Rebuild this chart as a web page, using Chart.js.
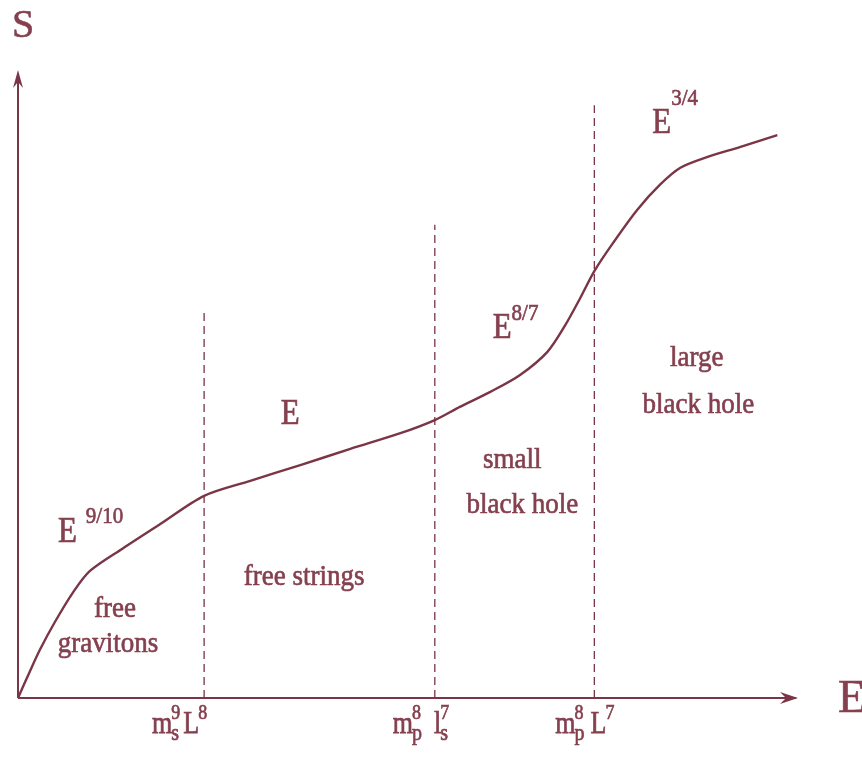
<!DOCTYPE html>
<html>
<head>
<meta charset="utf-8">
<title>Entropy vs energy</title>
<script src="https://cdn.jsdelivr.net/npm/chart.js@4"></script>
<style>
  html, body { margin: 0; padding: 0; background: #ffffff; }
  #wrap { width: 862px; height: 757px; }
</style>
</head>
<body>
<div id="wrap"><canvas id="phaseChart" width="862" height="757"></canvas></div>
<script>
// S(E) sketch: energy along x, entropy along y (arbitrary units, 0..100)
const energy  = [0, 1.5, 2.8, 4.7, 7.0, 9.2, 13.4, 18.2, 23.8, 29.7, 36.1, 42.5, 48.9,
                 53.3, 56.5, 60.4, 64.2, 67.7, 70.0, 71.9, 73.7, 76.1, 79.2, 82.1, 84.7, 88.1, 92.3, 97.1];
const entropy = [0, 4.2, 7.7, 12.1, 16.8, 20.3, 23.9, 27.8, 32.3, 34.7, 37.2, 39.8, 42.3,
                 44.4, 46.5, 48.9, 51.6, 55.3, 59.6, 63.9, 68.2, 72.7, 78.0, 82.0, 84.7, 86.4, 88.0, 89.9];

// phase boundaries (dashed verticals) and how high each one is drawn
const transitionE   = [23.8, 53.3, 73.7];
const transitionTop = [62.0, 75.6, 94.7];

// tick labels under each boundary: [base, superscript, subscript]
const tickLabels = [
  [['m', '9', 's'], ['L', '8', '']],
  [['m', '8', 'p'], ['l', '7', 's']],
  [['m', '8', 'p'], ['L', '7', '']]
];

// scaling-law labels: exponent of E in each regime
const powerLaws = ['9/10', '', '8/7', '3/4'];

// region names
const regionNames = [
  ['free', 'gravitons'],
  ['free strings'],
  ['small', 'black hole'],
  ['large', 'black hole']
];

const INK = '#7a3546';
const TEXT = '#85404f';
const SERIF = '"Liberation Serif", "DejaVu Serif", serif';

// where the text goes, in data units (x = E, y = S); baseline-anchored
const regionSpots = [
  [[12.4, 12.9], [11.5, 7.3]],
  [[36.6, 18.1]],
  [[63.2, 36.7], [64.5, 29.6]],
  [[86.8, 53.0], [87.0, 45.5]]
];
const powerSpots = [
  { at: [5.1, 24.9], sup: [9, 19] },
  { at: [33.6, 43.8], sup: [0, 0] },
  { at: [60.7, 57.5], sup: [0, 18] },
  { at: [81.1, 90.3], sup: [0, 28] }
];

function stretchedText(ctx, text, x, y, size, align, stretch) {
  ctx.save();
  ctx.font = size + 'px ' + SERIF;
  ctx.textAlign = align || 'left';
  ctx.textBaseline = 'alphabetic';
  ctx.translate(x, y);
  ctx.scale(1, stretch || 1.15);
  ctx.lineWidth = 0.6;
  ctx.strokeStyle = ctx.fillStyle;
  ctx.fillText(text, 0, 0);
  ctx.strokeText(text, 0, 0);
  ctx.restore();
  ctx.font = size + 'px ' + SERIF;
  return ctx.measureText(text).width;
}

const sketchPlugin = {
  id: 'sketch',
  afterDatasetsDraw(chart) {
    const { ctx, chartArea: a, scales } = chart;
    const xs = scales.x, ys = scales.y;
    const x0 = xs.getPixelForValue(0), y0 = ys.getPixelForValue(0);

    // axes with arrowheads
    ctx.save();
    ctx.strokeStyle = INK;
    ctx.fillStyle = INK;
    ctx.lineWidth = 2;
    ctx.beginPath();
    ctx.moveTo(x0, y0);
    ctx.lineTo(a.right - 4, y0);
    ctx.moveTo(x0, y0);
    ctx.lineTo(x0, a.top + 4);
    ctx.stroke();

    ctx.beginPath();
    ctx.moveTo(a.right - 2, y0);
    ctx.lineTo(a.right - 20, y0 - 6);
    ctx.lineTo(a.right - 14, y0);
    ctx.lineTo(a.right - 20, y0 + 6);
    ctx.closePath();
    ctx.fill();

    ctx.beginPath();
    ctx.moveTo(x0, a.top - 2);
    ctx.lineTo(x0 - 5, a.top + 16);
    ctx.lineTo(x0, a.top + 10);
    ctx.lineTo(x0 + 5, a.top + 16);
    ctx.closePath();
    ctx.fill();

    // axis names
    ctx.fillStyle = TEXT;
    stretchedText(ctx, 'S', x0 - 6, a.top - 35, 40, 'left', 1.0);
    stretchedText(ctx, 'E', a.right + 38, y0 + 14, 46, 'left', 1.0);

    // tick labels under the boundaries
    tickLabels.forEach((terms, i) => {
      let px = xs.getPixelForValue(transitionE[i]) - [52, 42, 39][i];
      const base = y0 + 35;
      terms.forEach((term, k) => {
        const w = stretchedText(ctx, term[0], px, base, 26, 'left', 1.25);
        px += w - 1;
        let ew = 0;
        if (term[1]) ew = Math.max(ew, stretchedText(ctx, term[1], px, base - 14, 18, 'left', 1.15));
        if (term[2]) ew = Math.max(ew, stretchedText(ctx, term[2], px, base + 7, 20, 'left', 1.15));
        px += ew + (k === 0 ? [3, 12, 6][i] : 0);
      });
    });

    // power-law labels
    powerLaws.forEach((exp, i) => {
      const s = powerSpots[i];
      const px = xs.getPixelForValue(s.at[0]);
      const py = ys.getPixelForValue(s.at[1]);
      const w = stretchedText(ctx, 'E', px, py, 31, 'left', 1.15);
      if (exp) stretchedText(ctx, exp, px + w + s.sup[0], py - s.sup[1], 21, 'left', 1.1);
    });

    // region names
    regionNames.forEach((lines, i) => {
      lines.forEach((txt, j) => {
        const [ex, sy] = regionSpots[i][j];
        stretchedText(ctx, txt, xs.getPixelForValue(ex), ys.getPixelForValue(sy), 27, 'center', 1.1);
      });
    });
    ctx.restore();
  }
};

const datasets = [{
  label: 'S(E)',
  data: energy.map((e, i) => ({ x: e, y: entropy[i] })),
  showLine: true,
  borderColor: INK,
  borderWidth: 2.4,
  pointRadius: 0,
  tension: 0.3
}];

transitionE.forEach((e, i) => {
  datasets.push({
    label: 'boundary ' + (i + 1),
    data: [{ x: e, y: 0 }, { x: e, y: transitionTop[i] }],
    showLine: true,
    borderColor: INK,
    borderWidth: 1.3,
    borderDash: [8, 5],
    pointRadius: 0
  });
});

new Chart(document.getElementById('phaseChart'), {
  type: 'scatter',
  data: { datasets: datasets },
  options: {
    responsive: false,
    animation: false,
    events: [],
    layout: { padding: { left: 18, right: 62, top: 72, bottom: 59 } },
    scales: {
      x: { type: 'linear', min: 0, max: 100, display: false },
      y: { type: 'linear', min: 0, max: 100, display: false }
    },
    plugins: {
      legend: { display: false },
      tooltip: { enabled: false }
    }
  },
  plugins: [sketchPlugin]
});
</script>
</body>
</html>
